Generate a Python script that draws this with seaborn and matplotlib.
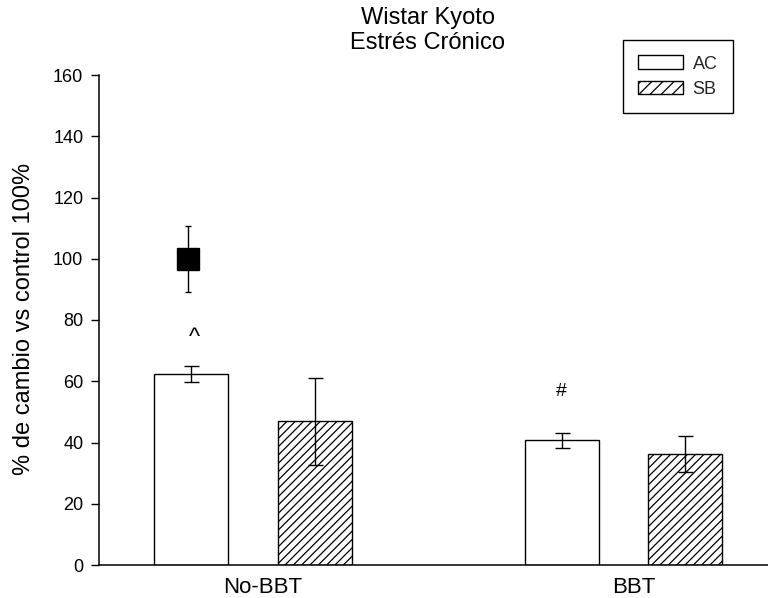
import matplotlib
matplotlib.use("Agg")
import matplotlib.pyplot as plt
import matplotlib.transforms as mtransforms
from matplotlib.patches import Patch
import numpy as np
import pandas as pd
import seaborn as sns

# Values
groups = ["No-BBT", "BBT"]
treatments = ["AC", "SB"]
ac_mean = [62.4, 40.7]
ac_err = [2.7, 2.4]
sb_mean = [46.9, 36.3]
sb_err = [14.3, 5.9]
control_mean = 100.0
control_err = 10.7
marks = ["^", "#"]
mark_y = [74.2, 56.5]
yticks = [0, 20, 40, 60, 80, 100, 120, 140, 160]
title_lines = ["Wistar Kyoto", "Estrés Crónico"]
ylabel = "% de cambio vs control 100%"

sns.set_theme(style="ticks")
plt.rcParams["font.family"] = ["Liberation Sans", "DejaVu Sans"]
plt.rcParams["hatch.linewidth"] = 0.9
plt.rcParams["hatch.color"] = "black"

df = pd.DataFrame({
    "grupo": groups * 2,
    "tratamiento": [treatments[0]] * 2 + [treatments[1]] * 2,
    "valor": ac_mean + sb_mean,
})
errs = {"AC": ac_err, "SB": sb_err}

fig = plt.figure(figsize=(7.68, 5.98), dpi=100)
ax = fig.add_axes([99 / 768, 1 - 565 / 598, 669 / 768, 490 / 598])

sns.barplot(
    data=df, x="grupo", y="valor", hue="tratamiento",
    order=groups, hue_order=treatments,
    palette={"AC": "white", "SB": "white"}, saturation=1,
    width=0.669, gap=0.403, edgecolor="black", linewidth=1.0,
    errorbar=None, legend=False, ax=ax, zorder=2,
)

# hatch the SB bars and add error bars on every bar
for cont, trt in zip(ax.containers, treatments):
    xs, ys = [], []
    for bar in cont:
        if trt == "SB":
            bar.set_hatch("////")
        xs.append(bar.get_x() + bar.get_width() / 2)
        ys.append(bar.get_height())
    ax.errorbar(xs, ys, yerr=errs[trt], fmt="none", ecolor="black",
                elinewidth=1.0, capsize=5.4, capthick=1.0, zorder=3)
    if trt == "AC":
        ac_x = xs

# control reference point
ax.errorbar([ac_x[0] - 0.008], [control_mean], yerr=[control_err], fmt="s",
            ms=15.5, mfc="black", mec="black", ecolor="black",
            elinewidth=1.0, capsize=2.0, capthick=1.0, zorder=4)

# significance marks
ax.text(ac_x[0] + 0.008, mark_y[0], marks[0], ha="center", va="center",
        fontsize=17, color="black")
ax.text(ac_x[1], mark_y[1], marks[1], ha="center", va="center",
        fontsize=14, color="black")

ax.set_xlim(-0.4157, 1.390)
ax.set_ylim(0, 160)
ax.set_yticks(yticks)
ax.set_xlabel("")
ax.set_ylabel(ylabel, fontsize=17, color="black")
ax.yaxis.set_label_coords(-0.096, 0.503)

sns.despine(ax=ax)
for s in ["left", "bottom"]:
    ax.spines[s].set_linewidth(1.1)
    ax.spines[s].set_color("black")

ax.tick_params(axis="y", length=5.8, width=1.0, pad=5.5, labelsize=13,
               colors="black", direction="out")
ax.tick_params(axis="x", length=0, pad=8.5, labelsize=16, colors="black")
shift = mtransforms.ScaledTranslation(0.10, 0, fig.dpi_scale_trans)
for lab in ax.get_xticklabels():
    lab.set_transform(lab.get_transform() + shift)

# legend
handles = [
    Patch(facecolor="white", edgecolor="black", linewidth=1.0, label="AC"),
    Patch(facecolor="white", edgecolor="black", linewidth=1.0, hatch="///", label="SB"),
]
leg = ax.legend(
    handles=handles, loc="upper left",
    bbox_to_anchor=(623 / 768, 1 - 40 / 598), bbox_transform=fig.transFigure,
    borderaxespad=0, fontsize=13, handlelength=2.45, handleheight=0.8,
    handletextpad=0.55, borderpad=0.85, labelspacing=0.45,
    frameon=True, fancybox=False, framealpha=1, edgecolor="black",
)
leg.get_frame().set_linewidth(1.0)

fig.text(428 / 768, 1 - 7 / 598, "\n".join(title_lines), ha="center", va="top",
         fontsize=17, color="black", linespacing=1.2)

fig.savefig("out.png", dpi=100, facecolor="white")
